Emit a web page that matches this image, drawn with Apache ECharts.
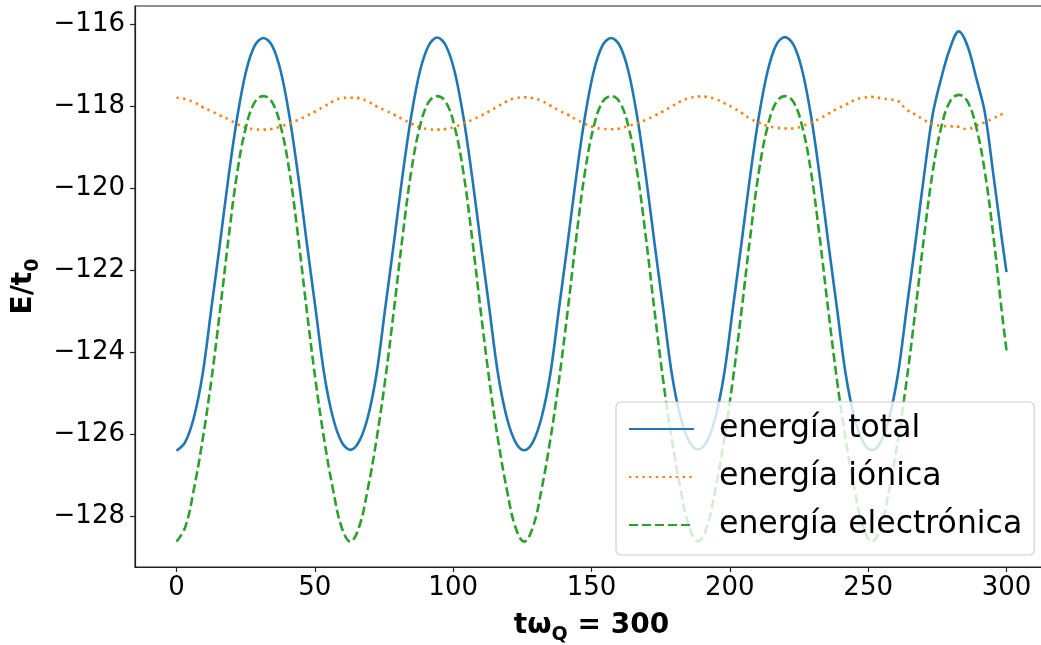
<!DOCTYPE html>
<html>
<head>
<meta charset="utf-8">
<script src="https://cdn.jsdelivr.net/npm/echarts@6/dist/echarts.min.js"></script>
<style>html,body{margin:0;padding:0;background:#fff;}#c{width:1041px;height:645px;}</style>
</head>
<body>
<div id="c"></div>
<script>
var seriesNames = ['energía total', 'energía iónica', 'energía electrónica'];
var xTicks = [0, 50, 100, 150, 200, 250, 300];
var yTicks = [-128, -126, -124, -122, -120, -118, -116];
var xVals = [0,3.14,6.28,9.42,12.57,15.71,18.85,21.99,25.13,28.27,
31.42,34.56,37.70,40.84,43.98,47.12,50.27,53.41,56.55,59.69,
62.83,65.97,69.12,72.26,75.40,78.54,81.68,84.82,87.96,91.11,
94.25,97.39,100.53,103.67,106.81,109.96,113.10,116.24,119.38,122.52,
125.66,128.81,131.95,135.09,138.23,141.37,144.51,147.65,150.80,153.94,
157.08,160.22,163.36,166.50,169.65,172.79,175.93,179.07,182.21,185.35,
188.50,191.64,194.78,197.92,201.06,204.20,207.35,210.49,213.63,216.77,
219.91,223.05,226.19,229.34,232.48,235.62,238.76,241.90,245.04,248.19,
251.33,254.47,257.61,260.75,263.89,267.04,270.18,273.32,276.46,279.60,
282.74,285.88,289.03,292.17,295.31,298.45,300];
var totalE = [-126.41,-126.2,-125.6,-124.55,-122.95,-121.35,-119.7,-118.25,-117.15,-116.52,
-116.33,-116.52,-117.15,-118.25,-119.7,-121.35,-122.95,-124.55,-125.6,-126.2,
-126.39,-126.19,-125.6,-124.55,-122.95,-121.35,-119.7,-118.25,-117.15,-116.52,
-116.32,-116.52,-117.15,-118.25,-119.7,-121.35,-122.95,-124.55,-125.6,-126.2,
-126.4,-126.2,-125.6,-124.55,-122.95,-121.35,-119.7,-118.25,-117.15,-116.52,
-116.33,-116.52,-117.15,-118.25,-119.7,-121.35,-122.95,-124.55,-125.6,-126.19,
-126.38,-126.19,-125.6,-124.55,-122.95,-121.35,-119.7,-118.25,-117.15,-116.5,
-116.31,-116.5,-117.13,-118.23,-119.7,-121.35,-122.95,-124.55,-125.6,-126.2,
-126.4,-126.2,-125.6,-124.55,-122.95,-121.35,-119.7,-118.2,-117.3,-116.58,
-116.17,-116.52,-117.3,-118.15,-119.7,-121.3,-122.05];
var ionicE = [-117.79,-117.82,-117.9,-118.02,-118.12,-118.22,-118.32,-118.44,-118.52,-118.56,
-118.57,-118.55,-118.49,-118.42,-118.33,-118.23,-118.12,-118.0,-117.88,-117.8,
-117.79,-117.8,-117.88,-118.0,-118.1,-118.2,-118.31,-118.42,-118.51,-118.56,
-118.57,-118.55,-118.5,-118.42,-118.33,-118.23,-118.12,-118.0,-117.88,-117.8,
-117.78,-117.8,-117.87,-117.98,-118.1,-118.2,-118.32,-118.43,-118.51,-118.55,
-118.56,-118.54,-118.48,-118.41,-118.33,-118.23,-118.12,-118.0,-117.88,-117.8,
-117.76,-117.77,-117.82,-117.92,-118.03,-118.16,-118.3,-118.4,-118.48,-118.52,
-118.54,-118.54,-118.48,-118.4,-118.3,-118.18,-118.06,-117.96,-117.85,-117.79,
-117.77,-117.8,-117.83,-117.87,-118.08,-118.2,-118.33,-118.43,-118.48,-118.49,
-118.5,-118.56,-118.47,-118.39,-118.29,-118.19,-118.14];
var electronicE = [-128.63,-128.28,-127.35,-126.15,-124.7,-123.0,-121.2,-119.6,-118.5,-117.9,
-117.75,-117.9,-118.5,-119.6,-121.2,-123.0,-124.7,-126.15,-127.35,-128.28,
-128.63,-128.28,-127.35,-126.15,-124.7,-123.0,-121.2,-119.6,-118.5,-117.9,
-117.75,-117.9,-118.5,-119.6,-121.2,-123.0,-124.7,-126.15,-127.35,-128.28,
-128.63,-128.28,-127.35,-126.15,-124.7,-123.0,-121.2,-119.6,-118.5,-117.9,
-117.75,-117.9,-118.5,-119.6,-121.2,-123.0,-124.7,-126.15,-127.35,-128.28,
-128.62,-128.28,-127.35,-126.15,-124.7,-123.0,-121.2,-119.6,-118.5,-117.9,
-117.75,-117.9,-118.5,-119.6,-121.2,-123.0,-124.7,-126.15,-127.35,-128.28,
-128.63,-128.28,-127.35,-126.15,-124.7,-123.0,-121.2,-119.6,-118.5,-117.88,
-117.72,-117.88,-118.5,-119.6,-121.2,-123.1,-123.96];

function pairs(ys){ return xVals.map(function(x,i){ return [x, ys[i]]; }); }
var FONT = 'DejaVu Sans';
var subRich = function(size, subSize){
  return { a: { fontFamily: FONT, fontWeight: 'bold', fontSize: size, lineHeight: 38, color: '#000' },
           s: { fontFamily: FONT, fontWeight: 'bold', fontSize: subSize, lineHeight: 16, verticalAlign: 'bottom', color: '#000' } };
};
var chart = echarts.init(document.getElementById('c'));
chart.setOption({
  animation: false,
  backgroundColor: '#ffffff',
  grid: { left: 135, top: 6, right: -7, bottom: 78, outerBoundsMode: 'none', containLabel: false,
          show: true, borderColor: '#222', borderWidth: 1.2, backgroundColor: 'transparent' },
  xAxis: {
    type: 'value', min: -15, max: 315,
    axisLine: { show: true, onZero: false, lineStyle: { color: '#222', width: 1.2 } },
    axisTick: { show: true, length: 5, lineStyle: { color: '#222', width: 1.2 }, customValues: xTicks },
    axisLabel: { customValues: xTicks, fontFamily: FONT, fontSize: 26, color: '#000', margin: 8 },
    splitLine: { show: false },
    name: '{a|tω}{s|Q}{a| = 300}',
    nameLocation: 'middle', nameGap: 40,
    nameTextStyle: { fontFamily: FONT, fontWeight: 'bold', fontSize: 28, color: '#000', rich: subRich(28, 19) }
  },
  yAxis: {
    type: 'value', min: -129.25, max: -115.55,
    axisLine: { show: true, onZero: false, lineStyle: { color: '#222', width: 1.2 } },
    axisTick: { show: true, length: 5, lineStyle: { color: '#222', width: 1.2 }, customValues: yTicks },
    axisLabel: { customValues: yTicks, fontFamily: FONT, fontSize: 26, color: '#000', margin: 10,
      formatter: function(v){ return String(Math.round(v)).replace('-', '\u2212'); } },
    splitLine: { show: false },
    name: '{a|E/t}{s|0}',
    nameLocation: 'middle', nameGap: 84,
    nameTextStyle: { fontFamily: FONT, fontWeight: 'bold', fontSize: 28, color: '#000', rich: subRich(28, 19) }
  },
  legend: {
    orient: 'vertical', left: 616, top: 402,
    data: seriesNames,
    itemWidth: 65, itemHeight: 14, itemGap: 16,
    padding: [11, 12, 14, 12],
    backgroundColor: 'rgba(255,255,255,0.8)',
    borderColor: '#d0d0d0', borderWidth: 1.2, borderRadius: 5,
    itemStyle: { opacity: 0 },
    textStyle: { fontFamily: FONT, fontSize: 31.5, color: '#000', lineHeight: 31, padding: [0, 0, 0, 20] }
  },
  series: [
    { name: seriesNames[0], type: 'line', data: pairs(totalE), symbol: 'none', smooth: 0.35,
      lineStyle: { color: '#1f77b4', width: 2.6 }, itemStyle: { color: '#1f77b4' } },
    { name: seriesNames[1], type: 'line', data: pairs(ionicE), symbol: 'none', smooth: 0.4,
      lineStyle: { color: '#ff7f0e', width: 2.6, type: [2.4, 4.3] }, itemStyle: { color: '#ff7f0e' } },
    { name: seriesNames[2], type: 'line', data: pairs(electronicE), symbol: 'none', smooth: 0.4,
      lineStyle: { color: '#2ca02c', width: 2.6, type: [9, 4] }, itemStyle: { color: '#2ca02c' } }
  ]
});
</script>
</body>
</html>
